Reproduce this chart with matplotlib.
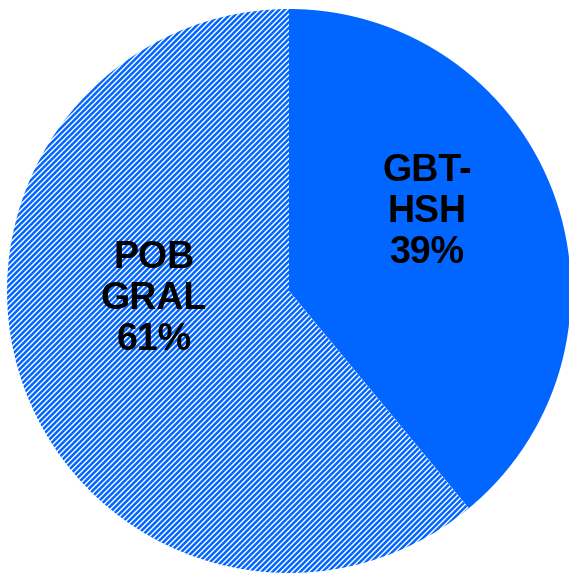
import matplotlib.pyplot as plt

categories = ['GBT-\nHSH', 'POB\nGRAL']
values = [39, 61]
label_pos = [(0.489, 0.280), (-0.479, -0.030)]

plt.rcParams['font.family'] = ['Liberation Sans', 'DejaVu Sans']
plt.rcParams['hatch.linewidth'] = 1.8

blue = '#0066FF'

fig = plt.figure(figsize=(5.69, 5.73), dpi=100)
ax = fig.add_axes([0, 0, 1, 1])

wedges, _ = ax.pie(values, startangle=90, counterclock=False,
                   colors=[blue, 'white'])
wedges[0].set_linewidth(0)
wedges[1].set_hatch('//////')
wedges[1].set_edgecolor(blue)
wedges[1].set_linewidth(0)

for name, v, (x, y) in zip(categories, values, label_pos):
    ax.text(x, y, f'{name}\n{v}%', ha='center', va='center',
            fontsize=27, fontweight='bold', linespacing=1.18)

cx, cy, r = 289, 291, 282
ax.set_xlim(-cx / r, (569 - cx) / r)
ax.set_ylim(-(573 - cy) / r, cy / r)
ax.set_aspect('auto')
ax.axis('off')

fig.savefig('out.png', dpi=100)
